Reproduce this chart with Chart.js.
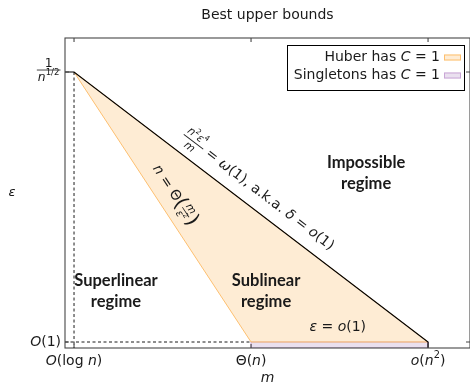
<!DOCTYPE html>
<html>
<head>
<meta charset="utf-8">
<script src="https://cdn.jsdelivr.net/npm/chart.js@4.4.1/dist/chart.umd.min.js"></script>
<style>
  html, body { margin: 0; padding: 0; background: #fff; }
  #wrap { width: 470px; height: 384px; }
</style>
</head>
<body>
<div id="wrap"><canvas id="boundsChart" width="470" height="384"></canvas></div>
<script>
// schematic axes: tick positions and their labels
const xTicks = [1, 2, 3];
const xTickLabels = ['O(log n)', 'Θ(n)', 'o(n^{2})'];
const yTicks = [0, 1];
const yTickLabels = ['O(1)', '1/n^{1/2}'];

// axis extents
const xRange = [0.949, 3.237];
const yRange = [-0.0222, 1.126];

// Huber has C = 1 (triangle region)
const huberX = [1, 2, 3, 1];
const huberY = [1, 0, 0, 1];
// Singletons has C = 1 (thin strip under O(1))
const singX = [2, 3, 3, 2, 2];
const singY = [0, 0, yRange[0], yRange[0], 0];
// upper boundary of the possible region
const boundX = [xRange[0], 1, 3, 3];
const boundY = [1, 1, 0, yRange[0]];
// dashed guide lines
const guideVX = [1, 1];
const guideVY = [1, yRange[0]];
const guideHX = [xRange[0], 2];
const guideHY = [0, 0];

const FAM = '"DejaVu Sans", sans-serif';
const BOLD_FAM = 'Lato, "DejaVu Sans", sans-serif';
const INK = '#1a1a1a';

function pts(xs, ys) {
	return xs.map((x, i) => ({x: x, y: ys[i]}));
}

// --- tiny rich text helpers (italic math letters, superscripts, fractions) ---
function toParts(str, size) {
	const out = [];
	const re = /\^\{([^}]*)\}|\^(.)|([A-Za-zΑ-Ωα-ω]+)|([^A-Za-zΑ-Ωα-ω^]+)/g;
	let m;
	while ((m = re.exec(str)) !== null) {
		if (m[1] !== undefined || m[2] !== undefined) {
			out.push({t: m[1] !== undefined ? m[1] : m[2], size: size * 0.7, dy: -size * 0.38});
		} else if (m[3]) {
			out.push({t: m[3], size: size, i: m[3].length === 1 && !/[Α-Ω]/.test(m[3])});
		} else {
			out.push({t: m[4], size: size});
		}
	}
	return out;
}
function labelParts(str, size) {
	const f = str.match(/^([^/{}]+)\/(.+)$/);
	if (f) {
		return [{num: toParts(f[1], size * 0.88), den: toParts(f[2], size * 0.88), up: 6.5, down: 7.5}];
	}
	return toParts(str, size);
}
function setFont(ctx, p) {
	ctx.font = (p.b ? 'bold ' : '') + (p.i ? 'italic ' : '') + p.size + 'px ' + (p.b ? BOLD_FAM : FAM);
}
function partsWidth(ctx, parts) {
	let w = 0;
	for (const p of parts) {
		if (p.num) {
			p.w = Math.max(partsWidth(ctx, p.num), partsWidth(ctx, p.den)) + 3;
		} else {
			setFont(ctx, p);
			p.w = ctx.measureText(p.t).width;
		}
		w += p.w;
	}
	return w;
}
function drawParts(ctx, parts, x, y) {
	for (const p of parts) {
		if (p.num) {
			const nw = partsWidth(ctx, p.num), dw = partsWidth(ctx, p.den);
			drawParts(ctx, p.num, x + (p.w - nw) / 2, y - p.up);
			drawParts(ctx, p.den, x + (p.w - dw) / 2, y + p.down);
			ctx.fillRect(x + 0.5, y - 0.4, p.w - 1, 0.8);
		} else {
			setFont(ctx, p);
			ctx.fillText(p.t, x, y + (p.dy || 0));
		}
		x += p.w;
	}
}
function rich(ctx, parts, x, y, align, angle) {
	ctx.save();
	ctx.translate(x, y);
	if (angle) ctx.rotate(angle);
	ctx.textBaseline = 'middle';
	ctx.textAlign = 'left';
	ctx.fillStyle = INK;
	const w = partsWidth(ctx, parts);
	const x0 = align === 'center' ? -w / 2 : (align === 'right' ? -w : 0);
	drawParts(ctx, parts, x0, 0);
	ctx.restore();
}
// text sitting on the upper side of the segment (x1,y1)-(x2,y2) at fraction t
function alongLine(ctx, parts, sx, sy, x1, y1, x2, y2, t, off) {
	const ax = sx.getPixelForValue(x1), ay = sy.getPixelForValue(y1);
	const bx = sx.getPixelForValue(x2), by = sy.getPixelForValue(y2);
	const ang = Math.atan2(by - ay, bx - ax);
	const px = ax + (bx - ax) * t + Math.sin(ang) * off;
	const py = ay + (by - ay) * t - Math.cos(ang) * off;
	rich(ctx, parts, px, py, 'center', ang);
}

// frame, inward ticks, tick labels, legend and annotations
const decor = {
	id: 'decor',
	afterDraw(chart) {
		const ctx = chart.ctx;
		const a = chart.chartArea;
		const sx = chart.scales.x, sy = chart.scales.y;
		ctx.save();

		// axis frame
		ctx.strokeStyle = '#474747';
		ctx.lineWidth = 1.1;
		ctx.strokeRect(a.left, a.top, a.right - a.left, a.bottom - a.top);
		ctx.beginPath();
		xTicks.forEach(v => {
			const px = sx.getPixelForValue(v);
			ctx.moveTo(px, a.bottom); ctx.lineTo(px, a.bottom - 4);
			ctx.moveTo(px, a.top); ctx.lineTo(px, a.top + 4);
		});
		yTicks.forEach(v => {
			const py = sy.getPixelForValue(v);
			ctx.moveTo(a.left, py); ctx.lineTo(a.left + 4, py);
			ctx.moveTo(a.right, py); ctx.lineTo(a.right - 4, py);
		});
		ctx.stroke();

		// tick labels
		xTicks.forEach((v, i) => {
			rich(ctx, labelParts(xTickLabels[i], 14), sx.getPixelForValue(v), a.bottom + 13, 'center');
		});
		yTicks.forEach((v, i) => {
			rich(ctx, labelParts(yTickLabels[i], 14), a.left - 4, sy.getPixelForValue(v) - (i ? 2 : 0), 'right');
		});

		// y axis label
		rich(ctx, [{t: 'ε', i: true, size: 13}], 12, (a.top + a.bottom) / 2, 'center');

		// legend (boxed, swatch on the right)
		const items = chart.data.datasets.filter(d => d.inLegend);
		const rows = items.map(d => toParts(d.label, 14));
		const maxW = Math.max.apply(null, rows.map(r => partsWidth(ctx, r)));
		const boxR = a.right - 6, boxT = a.top + 7;
		const swX = boxR - 20, txtR = swX - 4, boxL = txtR - maxW - 7;
		const rowH = 18, boxH = 8 + rowH * items.length + 1;
		ctx.fillStyle = '#fff';
		ctx.fillRect(boxL, boxT, boxR - boxL, boxH);
		ctx.strokeStyle = '#000';
		ctx.lineWidth = 1;
		ctx.strokeRect(Math.round(boxL) + 0.5, boxT + 0.5, Math.round(boxR - boxL), boxH);
		items.forEach((d, i) => {
			const cy = boxT + 12.5 + i * rowH;
			rich(ctx, rows[i], txtR, cy, 'right');
			ctx.fillStyle = d.backgroundColor;
			ctx.fillRect(swX, cy - 3, 17, 6);
			ctx.strokeStyle = d.borderColor;
			ctx.strokeRect(swX + 0.5, cy - 2.5, 16, 5);
		});

		// regime labels
		const bold = s => [{t: s, b: true, size: 16.5}];
		[['Impossible', 'regime', 2.65, 0.626], ['Superlinear', 'regime', 1.237, 0.19],
		 ['Sublinear', 'regime', 2.085, 0.19]].forEach(r => {
			const px = sx.getPixelForValue(r[2]), py = sy.getPixelForValue(r[3]);
			rich(ctx, bold(r[0]), px, py - 10.5, 'center');
			rich(ctx, bold(r[1]), px, py + 10.5, 'center');
		});
		rich(ctx, toParts('ε = o(1)', 14), sx.getPixelForValue(2.49), sy.getPixelForValue(0.056), 'center');

		// labels along the two boundaries
		const upper = [
			{num: [{t: 'n', i: true, size: 11}, {t: '2', size: 7.5, dy: -4}, {t: 'ε', i: true, size: 11}, {t: '4', size: 7.5, dy: -4}],
			 den: [{t: 'm', i: true, size: 11}], up: 6.5, down: 7},
			{t: ' = ', size: 14}, {t: 'ω', i: true, size: 14}, {t: '(1), a.k.a. ', size: 14},
			{t: 'δ', i: true, size: 14}, {t: ' = ', size: 14}, {t: 'o', i: true, size: 14}, {t: '(1)', size: 14}
		];
		alongLine(ctx, upper, sx, sy, 1, 1, 3, 0, 0.49, 17);
		const lower = [
			{t: 'n', i: true, size: 14}, {t: ' = Θ', size: 14}, {t: '(', size: 20, dy: 0},
			{num: [{t: 'm', i: true, size: 10.5}], den: [{t: 'ε', i: true, size: 10.5}, {t: '2', size: 7, dy: -4}], up: 6, down: 6.5},
			{t: ')', size: 20}
		];
		alongLine(ctx, lower, sx, sy, 1, 1, 2, 0, 0.49, 16.5);

		ctx.restore();
	}
};

const ctx = document.getElementById('boundsChart').getContext('2d');
const boundsChart = new Chart(ctx, {
	type: 'scatter',
	data: {
		datasets: [
			{
				label: 'bound',
				data: pts(boundX, boundY),
				showLine: true,
				borderColor: '#000',
				borderWidth: 1.2,
				pointRadius: 0,
				fill: false,
				order: 0
			},
			{
				label: 'guide-v',
				data: pts(guideVX, guideVY),
				showLine: true,
				borderColor: '#000',
				borderWidth: 0.9,
				borderDash: [3, 2.5],
				pointRadius: 0,
				fill: false,
				order: 1
			},
			{
				label: 'guide-h',
				data: pts(guideHX, guideHY),
				showLine: true,
				borderColor: '#000',
				borderWidth: 0.9,
				borderDash: [3, 2.5],
				pointRadius: 0,
				fill: false,
				order: 1
			},
			{
				label: 'Huber has C = 1',
				inLegend: true,
				data: pts(huberX, huberY),
				showLine: true,
				borderColor: '#fdbf6f',
				backgroundColor: 'rgba(253, 191, 111, 0.3)',
				borderWidth: 1,
				pointRadius: 0,
				fill: 'shape',
				order: 2
			},
			{
				label: 'Singletons has C = 1',
				inLegend: true,
				data: pts(singX, singY),
				showLine: true,
				borderColor: '#c9a6d6',
				backgroundColor: 'rgba(202, 178, 214, 0.4)',
				borderWidth: 1,
				pointRadius: 0,
				fill: 'shape',
				order: 3
			}
		]
	},
	options: {
		responsive: false,
		animation: false,
		layout: {padding: {left: 65, right: 0, top: 0, bottom: 0}},
		plugins: {
			legend: {display: false},
			tooltip: {enabled: false},
			title: {
				display: true,
				text: 'Best upper bounds',
				color: INK,
				font: {family: FAM, size: 14, weight: 'normal'},
				padding: {top: 6.6, bottom: 14.6}
			}
		},
		scales: {
			x: {
				type: 'linear',
				min: xRange[0],
				max: xRange[1],
				ticks: {display: false},
				grid: {display: false, drawTicks: false},
				border: {display: false},
				title: {
					display: true,
					text: 'm',
					color: INK,
					font: {family: FAM, size: 14, style: 'italic', lineHeight: 0.8},
					padding: {top: 24.8, bottom: 0}
				}
			},
			y: {
				type: 'linear',
				min: yRange[0],
				max: yRange[1],
				ticks: {display: false},
				grid: {display: false, drawTicks: false},
				border: {display: false}
			}
		}
	},
	plugins: [decor]
});
</script>
</body>
</html>
